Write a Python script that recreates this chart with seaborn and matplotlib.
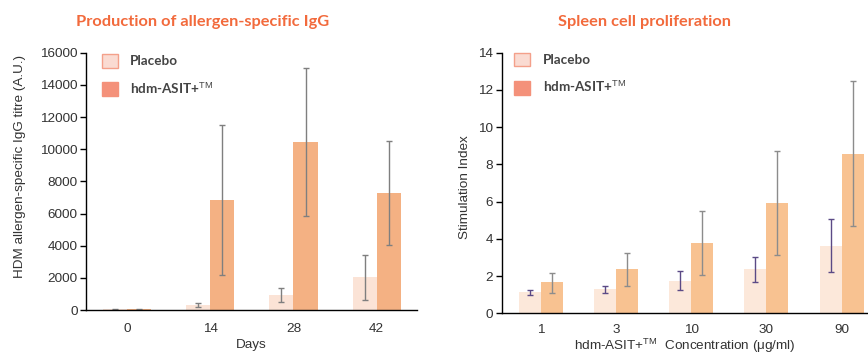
import numpy as np
import pandas as pd
import matplotlib
matplotlib.use("Agg")
import matplotlib.pyplot as plt
import seaborn as sns
from matplotlib.patches import Patch

# ---- data ----
groups = ["Placebo", r"hdm-ASIT+$^{\mathrm{TM}}$"]

days = ["0", "14", "28", "42"]
igg_placebo = [50, 300, 930, 2030]
igg_placebo_lo = [20, 180, 480, 600]
igg_placebo_hi = [80, 420, 1400, 3450]
igg_hdm = [60, 6850, 10440, 7260]
igg_hdm_lo = [30, 2200, 5850, 4050]
igg_hdm_hi = [90, 11500, 15050, 10500]

conc = ["1", "3", "10", "30", "90"]
si_placebo = [1.15, 1.32, 1.74, 2.36, 3.62]
si_placebo_lo = [0.97, 1.07, 1.25, 1.66, 2.22]
si_placebo_hi = [1.25, 1.49, 2.27, 3.04, 5.05]
si_hdm = [1.68, 2.36, 3.80, 5.93, 8.58]
si_hdm_lo = [1.11, 1.49, 2.08, 3.11, 4.69]
si_hdm_hi = [2.15, 3.22, 5.48, 8.74, 12.5]

sns.set_style("white")
plt.rcParams["font.family"] = ["Liberation Sans", "DejaVu Sans"]
plt.rcParams["mathtext.fontset"] = "custom"
plt.rcParams["mathtext.rm"] = "Liberation Sans"

W, H = 868, 356
fig = plt.figure(figsize=(8.68, 3.56), dpi=100)
axL = fig.add_axes([0.0991, 0.129, 0.381, 0.723])
axR = fig.add_axes([0.578, 0.120, 0.422, 0.732])

title_color = "#F26A3C"
leg_place = dict(facecolor="#FADBD2", edgecolor="#F4A08A", linewidth=1.0)
leg_hdm = dict(facecolor="#F4917A", edgecolor="#F4917A", linewidth=1.0)


def panel(ax, cats, pv, plo, phi, hv, hlo, hhi, pal, ecols, width, xlim, ylim, yticks,
          xlabel, ylabel, legend_anchor, xpad, xlabelpad):
    df = pd.DataFrame({
        "cat": cats * 2,
        "val": list(pv) + list(hv),
        "grp": [groups[0]] * len(cats) + [groups[1]] * len(cats),
    })
    sns.barplot(data=df, x="cat", y="val", hue="grp", order=cats, hue_order=groups,
                palette=pal, width=width, dodge=True, gap=0, errorbar=None,
                saturation=1, ax=ax, legend=False, linewidth=0)
    for cont, vals, lo, hi, ec in zip(ax.containers, [pv, hv], [plo, hlo], [phi, hhi], ecols):
        xs = [p.get_x() + p.get_width() / 2 for p in cont.patches]
        v = np.array(vals); l = np.array(lo); h = np.array(hi)
        ax.errorbar(xs, v, yerr=[v - l, h - v], fmt="none", ecolor=ec,
                    elinewidth=1.0, capsize=2.5, capthick=1.0)
    ax.set_xlim(*xlim)
    ax.set_ylim(*ylim)
    ax.set_yticks(yticks)
    ax.set_yticklabels([str(t) for t in yticks])
    for s in ["top", "right"]:
        ax.spines[s].set_visible(False)
    for s in ["left", "bottom"]:
        ax.spines[s].set_color("black")
        ax.spines[s].set_linewidth(1.0)
    ax.tick_params(axis="y", which="both", left=True, length=4, width=1,
                   color="black", labelsize=9.7, labelcolor="#333333", pad=2)
    ax.tick_params(axis="x", length=0, labelsize=9.7, labelcolor="#333333", pad=xpad)
    ax.set_xlabel(xlabel, fontsize=9.7, color="#333333", labelpad=xlabelpad)
    ax.set_ylabel(ylabel, fontsize=9.7, color="#333333")
    handles = [Patch(**leg_place), Patch(**leg_hdm)]
    leg = ax.legend(handles, groups, loc="upper left", bbox_to_anchor=legend_anchor,
                    frameon=False, handlelength=1.2, handleheight=1.2,
                    handletextpad=0.9, labelspacing=0.95, borderaxespad=0, borderpad=0,
                    prop={"family": ["Lato", "DejaVu Sans"], "size": 9.7, "weight": "bold"})
    for t in leg.get_texts():
        t.set_color("#444444")


panel(axL, days, igg_placebo, igg_placebo_lo, igg_placebo_hi,
      igg_hdm, igg_hdm_lo, igg_hdm_hi,
      ["#FBE3D6", "#F4B183"], ["#7F7F7F", "#7F7F7F"], 0.58,
      (-0.49, 3.48), (0, 16000), list(range(0, 16001, 2000)),
      "Days", "HDM allergen-specific IgG titre (A.U.)", (16 / 331, 0.995), 9, 3)
axL.yaxis.set_label_coords((26 - 86) / 331, (310 - 166) / 257.3)

panel(axR, conc, si_placebo, si_placebo_lo, si_placebo_hi,
      si_hdm, si_hdm_lo, si_hdm_hi,
      ["#FCE8DA", "#F8C291"], ["#5B4A86", "#8C8C8C"], 0.585,
      (-0.52, 4.35), (0, 14), list(range(0, 15, 2)),
      r"hdm-ASIT+$^{\mathrm{TM}}$  Concentration (μg/ml)", "Stimulation Index",
      (12.5 / 366, 1.0), 8, 0.5)
axR.yaxis.set_label_coords((471 - 501.7) / 366.3, (313.3 - 187) / 260.6)

fig.text(203 / W, 1 - 22 / H, "Production of allergen-specific IgG", ha="center", va="center",
         fontsize=11.8, fontweight="bold", color=title_color, family=["Lato", "DejaVu Sans"])
fig.text(645 / W, 1 - 22 / H, "Spleen cell proliferation", ha="center", va="center",
         fontsize=11.8, fontweight="bold", color=title_color, family=["Lato", "DejaVu Sans"])

fig.savefig("out.png", dpi=100)
